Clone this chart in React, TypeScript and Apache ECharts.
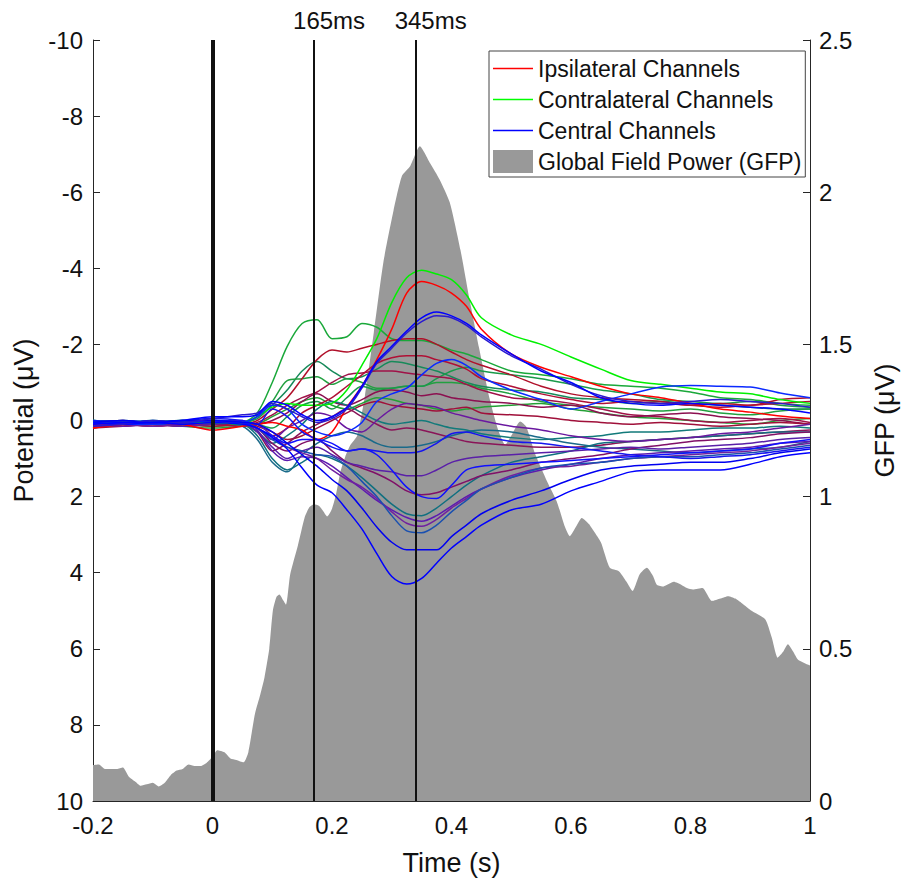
import React, { useEffect, useRef } from 'react';
import * as echarts from 'echarts';

// Sample times (s) for the channel traces
const times = [-0.2, -0.15, -0.1, -0.05, 0, 0.05, 0.075, 0.1, 0.125, 0.15, 0.175, 0.2, 0.225, 0.25, 0.275, 0.3, 0.325, 0.35, 0.375, 0.4, 0.425, 0.45, 0.5, 0.55, 0.6, 0.65, 0.7, 0.75, 0.8, 0.85, 0.9, 0.95, 1.0];

// Channel potentials (µV)
const ipsiMain = [0.2, 0.1, 0.05, 0.1, 0.25, 0.15, 0.1, 0.05, 0.15, 0.25, 0.5, 0.3, -0.35, -0.9, -1.6, -2.4, -3.35, -3.65, -3.55, -3.35, -3.0, -2.4, -1.75, -1.4, -1.15, -0.9, -0.7, -0.6, -0.45, -0.3, -0.22, -0.12, -0.05];
const contraMain = [0, 0.05, 0, 0.05, 0.05, 0.1, -0.1, -0.35, -0.45, -0.4, -0.4, -0.45, -0.8, -1.45, -2.15, -3.1, -3.75, -3.95, -3.85, -3.7, -3.3, -2.7, -2.25, -2.0, -1.67, -1.35, -1.05, -0.95, -0.85, -0.75, -0.7, -0.55, -0.45];
const centralMain = [0.1, 0.05, 0.05, 0, -0.1, -0.1, -0.15, -0.5, -0.4, -0.15, 0, -0.1, -0.35, -0.9, -1.55, -1.95, -2.35, -2.7, -2.85, -2.75, -2.55, -2.25, -1.75, -1.3, -1.0, -0.6, -0.45, -0.4, -0.45, -0.4, -0.35, -0.3, -0.2];
const centralB2 = [0.15, 0.1, 0, 0.05, -0.05, -0.15, -0.2, -0.45, -0.3, -0.1, 0.05, -0.05, -0.3, -0.85, -1.5, -1.9, -2.3, -2.6, -2.75, -2.7, -2.5, -2.2, -1.7, -1.35, -0.95, -0.65, -0.5, -0.45, -0.5, -0.55, -0.5, -0.45, -0.35];
const centralB3 = [0.05, 0.1, 0.1, 0.05, 0, 0.05, -0.1, -0.4, -0.3, 0.1, 0.3, 0.4, 0.3, 0.05, -0.5, -0.7, -0.85, -1.2, -1.5, -1.6, -1.45, -1.15, -0.8, -0.55, -0.3, -0.5, -0.7, -0.88, -0.92, -0.9, -0.88, -0.72, -0.6];
const centralB4 = [0.05, 0, 0.05, 0, -0.05, 0, 0.1, -0.3, -0.1, 0.3, 0.5, 0.7, 0.8, 0.75, 0.8, 0.85, 0.85, 0.8, 0.6, 0.35, 0.3, 0.4, 0.55, 0.6, 0.7, 0.8, 0.9, 0.95, 1.0, 0.95, 0.9, 0.8, 0.7];
const centralB5 = [0, 0.05, 0, 0.05, 0, 0.05, 0.2, 0.4, 0.6, 0.5, 0.5, 0.6, 0.8, 0.75, 0.9, 1.3, 1.75, 2.0, 2.05, 1.7, 1.3, 1.2, 1.15, 1.1, 1.05, 1.0, 0.95, 0.9, 0.85, 0.8, 0.75, 0.6, 0.5];
const centralB6 = [0, 0.05, 0.1, 0.05, 0, 0.05, 0.2, 0.5, 0.7, 0.8, 0.9, 0.95, 1.2, 1.6, 2.0, 2.5, 2.9, 2.95, 2.75, 2.4, 2.1, 1.8, 1.5, 1.25, 1.15, 1.1, 1.0, 0.95, 0.95, 0.9, 0.85, 0.75, 0.65];
const centralD2 = [0.05, 0, 0.05, 0, 0, 0.05, 0.1, 0.3, 0.6, 0.9, 1.2, 1.55, 1.85, 2.3, 2.8, 3.2, 3.4, 3.4, 3.4, 3.05, 2.75, 2.45, 2.1, 1.85, 1.55, 1.3, 1.2, 1.15, 1.1, 1.1, 1.0, 0.85, 0.75];
const centralD1 = [0.05, 0.1, 0.05, 0.1, 0.05, 0.1, 0.2, 0.45, 0.75, 1.25, 1.7, 1.9, 2.35, 2.85, 3.5, 4.1, 4.3, 4.15, 3.75, 3.35, 3.05, 2.75, 2.35, 2.2, 1.85, 1.6, 1.35, 1.3, 1.3, 1.3, 1.15, 0.95, 0.85];
const greenG2 = [0.05, 0, 0.05, 0, 0.1, 0.05, -0.2, -1.0, -1.95, -2.55, -2.65, -2.15, -2.2, -2.55, -2.45, -2.15, -2.1, -2.1, -2.0, -1.85, -1.75, -1.6, -1.3, -1.2, -1.1, -0.95, -0.9, -0.85, -0.75, -0.6, -0.55, -0.45, -0.4];
const greenG3 = [0.1, 0.05, 0.1, 0.05, 0.1, 0.05, -0.05, -0.4, -0.8, -1.3, -1.55, -1.3, -1.1, -1.15, -1.35, -1.55, -1.5, -1.4, -1.3, -1.15, -1.0, -0.9, -0.8, -0.75, -0.6, -0.55, -0.45, -0.5, -0.45, -0.4, -0.35, -0.3, -0.3];
const greenG4 = [0, 0.1, 0.05, 0.1, 0.15, 0.1, -0.1, -0.5, -1.05, -1.1, -1.15, -0.95, -1.1, -1.0, -0.85, -0.85, -0.9, -0.9, -1.0, -1.0, -0.95, -0.85, -0.7, -0.5, -0.4, -0.35, -0.3, -0.25, -0.3, -0.2, -0.15, -0.25, -0.3];
const greenG5 = [0.05, 0.1, 0.05, 0.05, 0.1, 0.05, 0.1, 0.2, -0.1, -0.4, -0.5, -0.3, -0.6, -0.9, -0.8, -0.85, -0.9, -0.9, -1.1, -1.3, -1.4, -1.3, -1.2, -1.1, -0.95, -0.8, -0.7, -0.55, -0.5, -0.45, -0.5, -0.4, -0.35];
const greenG6 = [0.1, 0.05, 0.1, 0.15, 0.2, 0.15, 0.1, -0.1, -0.3, -0.5, -0.6, -0.4, -0.3, -0.45, -0.6, -0.55, -0.45, -0.4, -0.3, -0.25, -0.3, -0.35, -0.4, -0.45, -0.3, -0.2, -0.1, -0.05, 0, 0.05, 0.1, 0, -0.05];
const redC1 = [0.1, 0.15, 0.05, 0.1, 0.05, 0.1, 0, -0.3, -0.6, -1.1, -1.6, -1.85, -1.8, -1.9, -2.0, -2.1, -2.15, -2.15, -2.0, -1.8, -1.6, -1.45, -1.2, -0.9, -0.7, -0.6, -0.55, -0.5, -0.4, -0.45, -0.4, -0.55, -0.6];
const redC2 = [0.15, 0.1, 0.15, 0.1, 0.05, 0.1, 0.05, -0.15, -0.4, -0.6, -0.75, -1.0, -1.2, -1.25, -1.3, -1.3, -1.25, -1.2, -1.15, -1.1, -0.95, -0.8, -0.6, -0.55, -0.45, -0.3, -0.15, -0.1, 0, 0.05, 0, -0.05, 0.05];
const redC3 = [0.05, 0, 0.1, 0.05, 0.1, 0.15, 0.1, 0, -0.2, -0.5, -0.7, -0.5, -0.4, -0.55, -0.75, -0.8, -0.75, -0.65, -0.7, -0.6, -0.55, -0.5, -0.45, -0.35, -0.4, -0.2, -0.1, -0.15, -0.2, -0.1, -0.05, 0, 0.1];
const redC4 = [0.2, 0.15, 0.1, 0.15, 0.1, 0.05, 0.15, 0.3, 0.5, 0.4, 0.2, 0, -0.2, -0.4, -0.5, -0.4, -0.35, -0.3, -0.25, -0.3, -0.35, -0.2, -0.15, -0.1, 0, 0.05, 0.1, 0.05, 0.1, 0.15, 0.1, 0.05, 0.1];
const redC5 = [0.1, 0.05, 0.1, 0.15, 0.1, 0.1, 0.3, 0.8, 0.6, 0.3, 0.1, -0.1, -0.3, -0.1, 0.1, 0.25, 0.2, 0.25, 0.35, 0.45, 0.55, 0.6, 0.65, 0.7, 0.7, 0.65, 0.55, 0.5, 0.45, 0.4, 0.35, 0.3, 0.25];
const redC6 = [0.2, 0.1, 0.15, 0.1, 0.15, 0.1, 0.2, 0.4, 0.2, -0.2, -0.4, -0.6, -0.9, -1.2, -1.5, -1.65, -1.7, -1.7, -1.6, -1.5, -1.35, -1.1, -0.9, -0.7, -0.55, -0.45, -0.5, -0.45, -0.4, -0.35, -0.4, -0.45, -0.5];
const mixM1 = [0.15, 0.1, 0.1, 0.05, 0, 0.1, 0.2, 0.6, 0.8, 0.6, 0.5, 0.8, 1.1, 1.25, 1.4, 1.6, 1.85, 1.95, 1.9, 1.75, 1.6, 1.45, 1.3, 1.1, 1.0, 0.9, 0.75, 0.65, 0.55, 0.5, 0.45, 0.35, 0.3];
const mixP1 = [0.1, 0.15, 0.1, 0.05, 0, 0.05, 0.2, 0.5, 0.2, 0, -0.2, -0.1, 0.2, 0.3, 0, -0.3, -0.45, -0.4, -0.35, -0.2, -0.1, 0, 0.15, 0.25, 0.4, 0.5, 0.55, 0.5, 0.45, 0.35, 0.3, 0.2, 0.1];
const mixP2 = [0.1, 0.05, 0.1, 0.15, 0.1, 0.05, 0.3, 0.7, 1.0, 0.8, 0.7, 0.9, 1.1, 1.2, 1.3, 1.35, 1.45, 1.45, 1.3, 1.1, 1.0, 0.95, 0.9, 0.85, 0.8, 0.75, 0.7, 0.75, 0.7, 0.65, 0.6, 0.5, 0.45];
const mixP3 = [0.1, 0.05, 0.05, 0.1, 0.05, 0, 0.25, 0.8, 1.05, 0.95, 1.0, 1.2, 1.5, 1.8, 2.1, 2.35, 2.55, 2.65, 2.5, 2.25, 2.0, 1.8, 1.5, 1.3, 1.15, 1.0, 0.9, 0.85, 0.8, 0.75, 0.7, 0.6, 0.55];
const mixP4 = [0.05, 0.1, 0.15, 0.1, 0.05, 0.05, 0.1, 0.4, 0.7, 0.85, 1.0, 1.3, 1.55, 1.75, 2.05, 2.4, 2.7, 2.78, 2.6, 2.3, 2.05, 1.8, 1.45, 1.25, 1.2, 1.1, 1.0, 0.95, 0.9, 0.85, 0.8, 0.7, 0.6];
const mixT1 = [0.05, 0.1, 0.05, 0, 0.05, 0.1, 0.3, 0.6, 0.4, 0.1, -0.3, -0.5, -0.4, -0.2, 0, 0.1, 0.05, 0, 0.1, 0.2, 0.25, 0.35, 0.45, 0.5, 0.45, 0.4, 0.3, 0.3, 0.25, 0.2, 0.2, 0.15, 0.2];
const mixT2 = [0, 0.05, 0.1, 0.05, 0.05, 0.15, 0.5, 1.1, 1.35, 0.9, 0.6, 0.4, 0.3, 0.4, 0.6, 0.7, 0.7, 0.65, 0.55, 0.4, 0.3, 0.25, 0.3, 0.45, 0.6, 0.7, 0.75, 0.8, 0.85, 0.8, 0.75, 0.7, 0.55];
const mixT3 = [0.05, 0.1, 0.05, 0, 0.05, 0.1, 0.4, 1.0, 1.3, 1.1, 0.9, 1.0, 1.2, 1.5, 1.85, 2.2, 2.45, 2.5, 2.3, 2.0, 1.7, 1.45, 1.1, 0.95, 0.8, 0.6, 0.55, 0.5, 0.45, 0.4, 0.35, 0.3, 0.3];

// Global field power (µV)
const gfpTimes = [-0.2, -0.19, -0.18, -0.16, -0.15, -0.14, -0.13, -0.12, -0.11, -0.1, -0.09, -0.08, -0.07, -0.06, -0.05, -0.04, -0.03, -0.02, -0.01, 0, 0.008, 0.02, 0.03, 0.04, 0.052, 0.06, 0.071, 0.08, 0.087, 0.095, 0.101, 0.107, 0.112, 0.118, 0.123, 0.13, 0.143, 0.154, 0.162, 0.17, 0.178, 0.184, 0.192, 0.2, 0.207, 0.214, 0.222, 0.231, 0.242, 0.255, 0.27, 0.286, 0.303, 0.317, 0.331, 0.347, 0.364, 0.38, 0.397, 0.415, 0.43, 0.446, 0.464, 0.478, 0.49, 0.5, 0.515, 0.525, 0.54, 0.56, 0.576, 0.59, 0.598, 0.608, 0.618, 0.63, 0.638, 0.65, 0.665, 0.68, 0.693, 0.703, 0.715, 0.727, 0.737, 0.744, 0.755, 0.772, 0.785, 0.794, 0.804, 0.82, 0.836, 0.85, 0.863, 0.875, 0.886, 0.903, 0.925, 0.936, 0.946, 0.955, 0.963, 0.972, 0.98, 1.0];
const gfpValues = [0.118, 0.12, 0.105, 0.105, 0.11, 0.08, 0.065, 0.05, 0.055, 0.06, 0.048, 0.06, 0.085, 0.1, 0.105, 0.12, 0.115, 0.115, 0.125, 0.145, 0.167, 0.16, 0.14, 0.135, 0.127, 0.16, 0.286, 0.35, 0.406, 0.5, 0.625, 0.67, 0.678, 0.66, 0.645, 0.744, 0.84, 0.93, 0.965, 0.975, 0.97, 0.956, 0.935, 0.96, 1.01, 1.08, 1.13, 1.17, 1.2, 1.33, 1.54, 1.77, 1.94, 2.053, 2.086, 2.151, 2.096, 2.042, 1.967, 1.81, 1.65, 1.49, 1.32, 1.22, 1.17, 1.2, 1.247, 1.23, 1.14, 1.05, 0.985, 0.9, 0.87, 0.9, 0.93, 0.91, 0.887, 0.85, 0.766, 0.755, 0.72, 0.69, 0.745, 0.766, 0.74, 0.71, 0.705, 0.72, 0.71, 0.7, 0.695, 0.7, 0.657, 0.665, 0.673, 0.665, 0.65, 0.624, 0.597, 0.537, 0.471, 0.49, 0.515, 0.49, 0.464, 0.445];

// Event markers
const eventTimes = [0, 0.165, 0.345];
const eventLabels = ['', '165ms', '345ms'];

// Legend entries
const legendNames = ['Ipsilateral Channels', 'Contralateral Channels', 'Central Channels', 'Global Field Power (GFP)'];

// Channel list: [name, values]; colours kept separately
const channels: [string, number[]][] = [
  ['g2', greenG2], ['g3', greenG3], ['g4', greenG4], ['g5', greenG5], ['g6', greenG6],
  ['c1', redC1], ['c2', redC2], ['c3', redC3], ['c4', redC4], ['c5', redC5], ['c6', redC6],
  ['t1', mixT1], ['t2', mixT2], ['t3', mixT3], ['m1', mixM1],
  ['p1', mixP1], ['p2', mixP2], ['p3', mixP3], ['p4', mixP4],
  [legendNames[0], ipsiMain], [legendNames[1], contraMain],
  ['b6', centralB6], ['b5', centralB5], ['b4', centralB4], ['b3', centralB3],
  ['d2', centralD2], ['d1', centralD1], ['b2', centralB2], [legendNames[2], centralMain],
];
const channelColors = [
  '#1aa83a', '#178a5a', '#22a040', '#1a9a4a', '#24a035',
  '#b0102a', '#a01248', '#8c1050', '#a0103a', '#8a1458', '#b01035',
  '#127a7a', '#1a6a8a', '#107080', '#801068',
  '#6a18a0', '#5a20a8', '#5c1ab0', '#7020a0',
  '#ff0000', '#00f000',
  '#1a50b0', '#1010ff', '#1515f0', '#0a2aff',
  '#0000f0', '#0000ff', '#2a1ad0', '#0000ff',
];

const FONT = 'Liberation Sans, Arial, Helvetica, sans-serif';
const AX = '#262626';
const LEGEND_LINE = 'path://M0,0H40V1.4H0Z';
const W = 906;
const H = 881;

export default function App() {
  const ref = useRef<HTMLDivElement>(null);
  useEffect(() => {
    if (!ref.current) return;
    const chart = echarts.init(ref.current, null, { renderer: 'svg', width: W, height: H });
    const channelSeries = channels.map(([name, vals], k) => ({
      type: 'line',
      name,
      xAxisIndex: 0,
      yAxisIndex: 0,
      data: times.map((t, i) => [t, vals[i]]),
      symbol: 'none',
      showSymbol: false,
      smooth: 0.3,
      silent: true,
      z: 3,
      lineStyle: { width: 1.5, color: channelColors[k] },
      itemStyle: { color: channelColors[k] },
    }));
    const gfpSeries = {
      type: 'line',
      name: legendNames[3],
      xAxisIndex: 0,
      yAxisIndex: 1,
      data: gfpTimes.map((t, i) => [t, gfpValues[i]]),
      symbol: 'none',
      showSymbol: false,
      smooth: 0.2,
      silent: true,
      z: 1,
      lineStyle: { width: 0, color: '#999999' },
      itemStyle: { color: '#999999' },
      areaStyle: { color: '#999999', opacity: 1 },
      markLine: {
        silent: true,
        symbol: ['none', 'none'],
        z: 6,
        lineStyle: { color: '#111', type: 'solid' },
        data: eventTimes.map((t, i) => ({
          xAxis: t,
          lineStyle: { color: '#111', type: 'solid', width: i === 0 ? 4 : 2 },
          label: {
            show: eventLabels[i] !== '',
            formatter: eventLabels[i],
            position: 'end',
            distance: 8,
            padding: [0, 0, 0, 30],
            fontSize: 24,
            color: '#111',
            fontFamily: FONT,
          },
        })),
      },
    };
    const option = {
      animation: false,
      backgroundColor: '#fff',
      textStyle: { fontFamily: FONT },
      grid: { left: 93, right: 87, top: 40, bottom: 77, containLabel: false },
      legend: {
        show: true,
        orient: 'vertical',
        left: 489,
        top: 51,
        padding: [6, 4, 4, 4],
        itemGap: 8,
        itemWidth: 40,
        itemHeight: 23,
        borderColor: '#444',
        borderWidth: 1,
        backgroundColor: '#fff',
        selectedMode: false,
        itemStyle: { borderWidth: 0 },
        textStyle: { fontSize: 23, color: '#111', fontFamily: FONT },
        data: [
          { name: legendNames[0], icon: LEGEND_LINE, itemStyle: { color: '#ff0000' } },
          { name: legendNames[1], icon: LEGEND_LINE, itemStyle: { color: '#00ff00' } },
          { name: legendNames[2], icon: LEGEND_LINE, itemStyle: { color: '#0000ff' } },
          { name: legendNames[3], icon: 'rect' },
        ],
      },
      xAxis: {
        type: 'value',
        min: -0.2,
        max: 1,
        interval: 0.2,
        name: 'Time (s)',
        nameLocation: 'middle',
        nameGap: 48,
        nameTextStyle: { fontSize: 27, color: '#111', fontFamily: FONT },
        axisLine: { show: true, onZero: false, lineStyle: { color: AX, width: 1 } },
        axisTick: { show: true, inside: true, length: 7, lineStyle: { color: AX } },
        axisLabel: { fontSize: 24, color: '#111', margin: 12, fontFamily: FONT },
        splitLine: { show: false },
      },
      yAxis: [
        {
          type: 'value',
          min: -10,
          max: 10,
          interval: 2,
          inverse: true,
          position: 'left',
          name: 'Potential (μV)',
          nameLocation: 'middle',
          nameRotate: 90,
          nameGap: 50,
          nameTextStyle: { fontSize: 27, color: '#111', fontFamily: FONT },
          axisLine: { show: true, onZero: false, lineStyle: { color: AX, width: 1 } },
          axisTick: { show: true, inside: true, length: 7, lineStyle: { color: AX } },
          axisLabel: { fontSize: 24, color: '#111', margin: 10, fontFamily: FONT },
          splitLine: { show: false },
        },
        {
          type: 'value',
          min: 0,
          max: 2.5,
          interval: 0.5,
          position: 'right',
          name: 'GFP (μV)',
          nameLocation: 'middle',
          nameRotate: 90,
          nameGap: 61,
          nameTextStyle: { fontSize: 27, color: '#111', fontFamily: FONT },
          axisLine: { show: true, onZero: false, lineStyle: { color: AX, width: 1 } },
          axisTick: { show: true, inside: true, length: 7, lineStyle: { color: AX } },
          axisLabel: { fontSize: 24, color: '#111', margin: 9, fontFamily: FONT },
          splitLine: { show: false },
        },
      ],
      series: [gfpSeries, ...channelSeries],
    };
    chart.setOption(option as any);
    return () => chart.dispose();
  }, []);
  return <div ref={ref} style={{ position: 'fixed', left: 0, top: 0, width: W, height: H }} />;
}
